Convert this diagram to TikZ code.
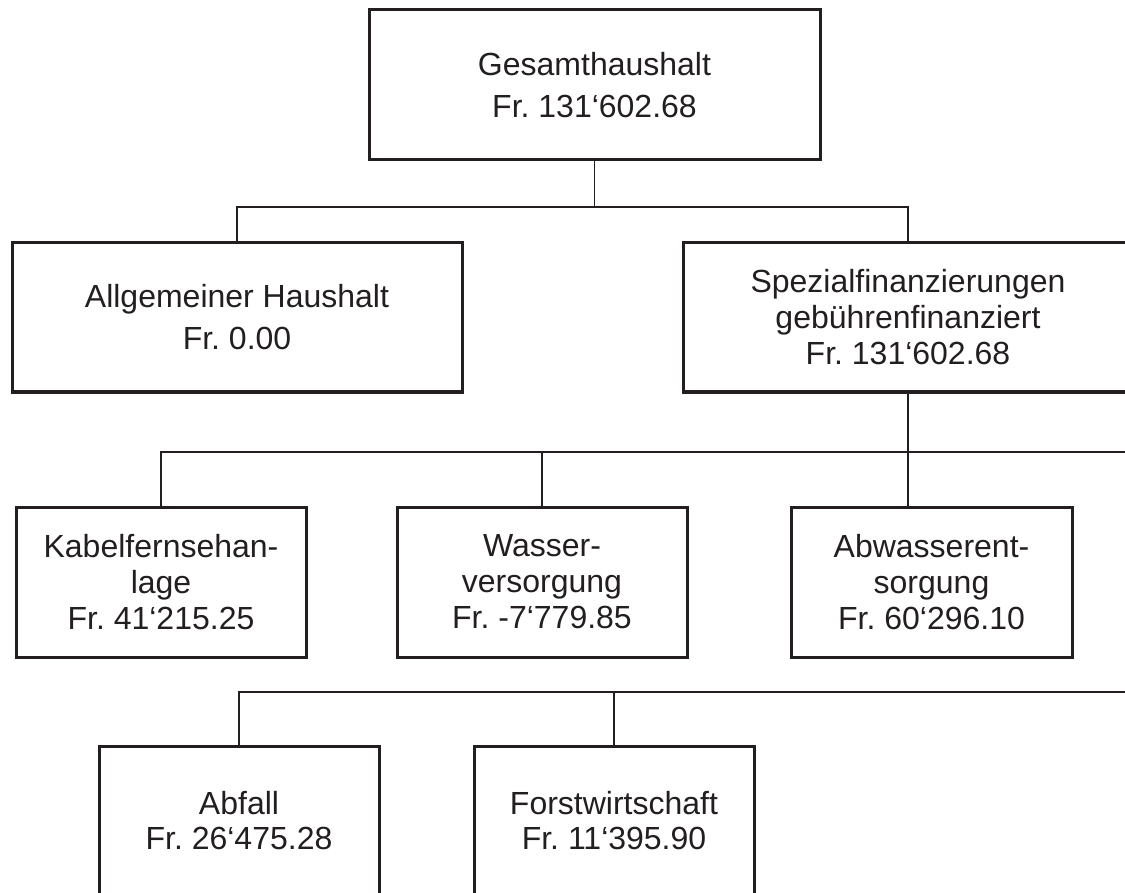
\documentclass[tikz,border=0pt]{standalone}
\usepackage{fontspec}
\setmainfont{Liberation Sans}
\frenchspacing
\definecolor{ink}{HTML}{231F20}
\begin{document}
\begin{tikzpicture}[x=1pt,y=-1pt,
  box/.style={draw=ink,line width=3pt,rectangle,inner sep=0pt,align=center,text=ink,fill=white},
  twoline/.style={font=\fontsize{32}{42}\selectfont},
  threeline/.style={font=\fontsize{32}{36}\selectfont},
  lowline/.style={font=\fontsize{32}{35}\selectfont},
  conn/.style={draw=ink,line width=1.6pt}]
\useasboundingbox (0,0) rectangle (1125,893);
\clip (0,0) rectangle (1125,893);
\fill[white] (0,0) rectangle (1125,893);
% nodes
\node[box,twoline,minimum width=451pt,minimum height=150pt] (top) at (594.5,85) {Gesamthaushalt\\Fr. 131‘602.68};
\node[box,twoline,minimum width=450pt,minimum height=149pt] (allg) at (237,317.5) {Allgemeiner Haushalt\\Fr. 0.00};
\node[box,threeline,minimum width=450pt,minimum height=149pt] (spez) at (908,317.5) {Spezialfinanzierungen\\gebührenfinanziert\\Fr. 131‘602.68};
\node[box,threeline,minimum width=290pt,minimum height=150pt] (kabel) at (161,582) {Kabelfernsehan-\\lage\\Fr. 41‘215.25};
\node[box,threeline,minimum width=290pt,minimum height=150pt] (wasser) at (542,582) {Wasser-\\versorgung\\Fr. -7‘779.85};
\node[box,threeline,minimum width=281pt,minimum height=150pt] (abw) at (931.5,582) {Abwasserent-\\sorgung\\Fr. 60‘296.10};
\node[box,lowline,minimum width=280pt,minimum height=150pt] (abfall) at (239,821) {Abfall\\Fr. 26‘475.28};
\node[box,lowline,minimum width=280pt,minimum height=150pt] (forst) at (614,821) {Forstwirtschaft\\Fr. 11‘395.90};
% bus coordinates
\coordinate (b1) at (0,207);
\coordinate (b2) at (1135,452);
\coordinate (b3) at (1135,692);
% connectors
\draw[conn] (top.south) -- (top.south |- b1);
\draw[conn] (allg.north) -- (allg.north |- b1) -- (spez.north |- b1) -- (spez.north);
\draw[conn] (spez.south) -- (spez.south |- abw.north);
\draw[conn] (kabel.north) -- (kabel.north |- b2) -- (b2);
\draw[conn] (wasser.north) -- (wasser.north |- b2);
\draw[conn] (abfall.north) -- (abfall.north |- b3) -- (b3);
\draw[conn] (forst.north) -- (forst.north |- b3);
\end{tikzpicture}
\end{document}
